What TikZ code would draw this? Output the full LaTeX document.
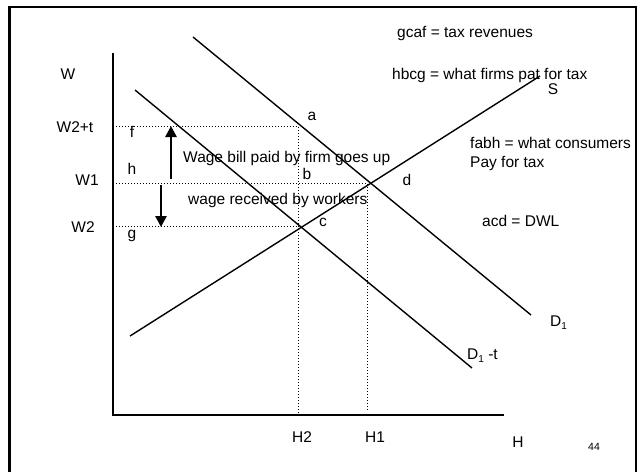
\documentclass[tikz,border=0pt]{standalone}
\usepackage{fontspec}
\setmainfont{Liberation Sans}
\usetikzlibrary{arrows.meta}
\begin{document}
\begin{tikzpicture}[x=1pt,y=-1pt,
  lbl/.style={font=\fontsize{15.5}{17}\selectfont, inner sep=0pt},
  lblw/.style={lbl, anchor=west},
  curve/.style={line width=1.4pt},
  axis/.style={line width=1.6pt},
  guide/.style={dotted, line width=1pt},
  bigarrow/.style={line width=2.6pt, -{Triangle[length=11pt,width=11pt]}},
  frame/.style={line width=2.6pt}]
\useasboundingbox (0,0) rectangle (642,471);
% frame
\coordinate (fbl) at (9.5,475);
\coordinate (ftl) at (9.5,7);
\coordinate (ftr) at (636,7);
\coordinate (fbr) at (636,475);
\draw[frame] (fbl) -- (ftl) -- (ftr) -- (fbr);
% axes
\coordinate (O) at (113,415);
\coordinate (ytop) at (113,53);
\coordinate (xend) at (504,415);
\draw[axis] (ytop) -- (O) -- (xend);
% curves
\coordinate (D1a) at (193,37);
\coordinate (D1b) at (531,315);
\coordinate (Dta) at (135,90);
\coordinate (Dtb) at (472,368);
\coordinate (Sa) at (130,336);
\coordinate (Sb) at (540,76);
\draw[curve] (D1a) -- (D1b);
\draw[curve] (Dta) -- (Dtb);
\draw[curve] (Sa) -- (Sb);
% guide lines
\coordinate (yW2t) at (113,126);
\coordinate (pa) at (298,126);
\coordinate (yW1) at (113,183);
\coordinate (pd) at (367,183);
\coordinate (yW2) at (113,226);
\coordinate (pc) at (298,226);
\coordinate (xH2) at (298,414);
\coordinate (xH1) at (367,410);
\draw[guide] (yW2t) -- (pa) -- (xH2);
\draw[guide] (yW1) -- (pd) -- (xH1);
\draw[guide] (yW2) -- (pc);
% arrows
\coordinate (upS) at (171,179);
\coordinate (upE) at (171,126);
\coordinate (dnS) at (161,185);
\coordinate (dnE) at (161,227);
\draw[bigarrow] (upS) -- (upE);
\draw[bigarrow] (dnS) -- (dnE);
% labels
\node[lbl] (W) at (68,74) {W};
\node[lbl] (W2t) at (75,127) {W2+t};
\node[lbl] (W1) at (87,180) {W1};
\node[lbl] (W2) at (83,227) {W2};
\node[lbl] (f) at (132,132) {f};
\node[lbl] (h) at (132,169) {h};
\node[lbl] (g) at (132,236) {g};
\node[lbl] (a) at (312,116) {a};
\node[lbl] (b) at (307,174) {b};
\node[lbl] (c) at (323,222) {c};
\node[lbl] (d) at (407,180) {d};
\node[lbl] (S) at (553,89) {S};
\node[lblw] (D1) at (550,323) {D\raisebox{-3pt}{\fontsize{10}{11}\selectfont 1}};
\node[lblw] (D1t) at (467,356) {D\raisebox{-3pt}{\fontsize{10}{11}\selectfont 1} -t};
\node[lbl] (H) at (518,442) {H};
\node[lbl, font=\fontsize{10.5}{12}\selectfont] (n44) at (594,447) {44};
\node[lbl] (H2) at (302,437) {H2};
\node[lbl] (H1) at (375,437) {H1};
\node[lblw] (t1) at (397,33) {gcaf = tax revenues};
\node[lblw] (t2) at (392,75) {hbcg = what firms pat for tax};
\node[lblw] (t3) at (470,143) {fabh = what consumers};
\node[lblw] (t4) at (470,163) {Pay for tax};
\node[lblw] (t5) at (482,221) {acd = DWL};
\node[lblw] (t6) at (183,158) {Wage bill paid by firm goes up};
\node[lblw] (t7) at (188,200) {wage received by workers};
\end{tikzpicture}
\end{document}
